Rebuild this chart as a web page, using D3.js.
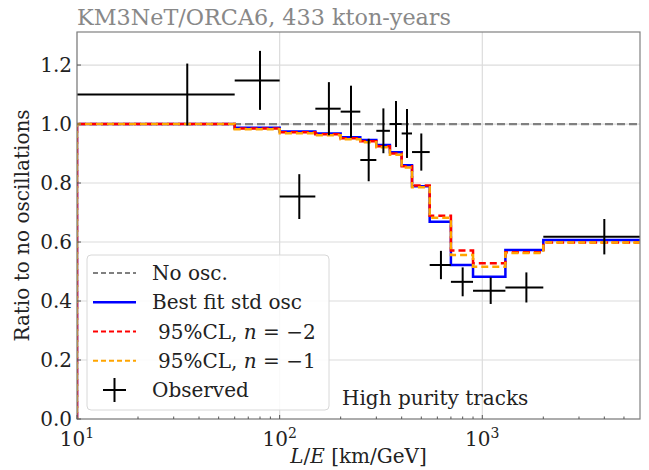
<!DOCTYPE html>
<html>
<head>
<meta charset="utf-8">
<script src="https://cdn.jsdelivr.net/npm/d3@7"></script>
<style>
  body { margin: 0; background: #fff; }
  text { font-family: "DejaVu Serif", serif; }
</style>
</head>
<body>
<div id="chart"></div>
<script>
// Bin edges in L/E (km/GeV) and the observed points at bin centres
const binEdges = [10, 60, 100, 150, 200, 250, 300, 350, 400, 450, 550, 700, 900, 1300, 2000, 6000];
const obsX = [35, 80, 125, 175, 225, 275, 325, 375, 425, 500, 625, 800, 1100, 1650, 4000];
const obsY = [1.10, 1.148, 0.754, 1.052, 1.042, 0.878, 0.977, 1.0, 0.968, 0.905, 0.522, 0.465, 0.435, 0.446, 0.618];
const obsErr = [0.105, 0.10, 0.076, 0.09, 0.088, 0.072, 0.076, 0.078, 0.083, 0.063, 0.048, 0.049, 0.045, 0.051, 0.06];

// Model ratios per bin
const bestFit = [1.0, 0.987, 0.975, 0.968, 0.955, 0.946, 0.929, 0.904, 0.860, 0.789, 0.669, 0.522, 0.482, 0.573, 0.607];
const clNm2 = [1.0, 0.985, 0.972, 0.965, 0.952, 0.942, 0.925, 0.900, 0.857, 0.792, 0.689, 0.571, 0.528, 0.565, 0.598];
const clNm1 = [1.0, 0.982, 0.969, 0.962, 0.948, 0.938, 0.921, 0.896, 0.853, 0.786, 0.682, 0.556, 0.516, 0.563, 0.598];

const yTicks = [0.0, 0.2, 0.4, 0.6, 0.8, 1.0, 1.2];
const xTicks = [10, 100, 1000];
const xMinor = [20, 30, 40, 50, 60, 70, 80, 90, 200, 300, 400, 500, 600, 700, 800, 900, 2000, 3000, 4000, 5000];

const W = 649, H = 470;
const pLeft = 77, pRight = 640, pTop = 32, pBottom = 419;
const fs = 20;

const svg = d3.select("#chart").append("svg")
  .attr("width", W).attr("height", H);

const x = d3.scaleLog().domain([10, 6000]).range([pLeft, pRight]);
const y = d3.scaleLinear().domain([0, 1.312]).range([pBottom, pTop]);

svg.append("defs").append("clipPath").attr("id", "clip")
  .append("rect").attr("x", pLeft).attr("y", pTop)
  .attr("width", pRight - pLeft).attr("height", pBottom - pTop);

// grid
const grid = svg.append("g");
grid.selectAll(".gy").data(yTicks).enter().append("line")
  .attr("x1", pLeft).attr("x2", pRight)
  .attr("y1", d => y(d)).attr("y2", d => y(d))
  .attr("stroke", "#dcdcdc").attr("stroke-width", 1.2);
grid.selectAll(".gx").data(xTicks).enter().append("line")
  .attr("x1", d => x(d)).attr("x2", d => x(d))
  .attr("y1", pTop).attr("y2", pBottom)
  .attr("stroke", "#dcdcdc").attr("stroke-width", 1.2);

const plot = svg.append("g").attr("clip-path", "url(#clip)");

// no oscillation reference line
plot.append("line")
  .attr("x1", x(10)).attr("x2", x(6000))
  .attr("y1", y(1)).attr("y2", y(1))
  .attr("stroke", "#808080").attr("stroke-width", 2.2)
  .attr("stroke-dasharray", "8,4");

// step histogram path
function stepPath(vals) {
  const pts = [[binEdges[0], 0]];
  vals.forEach((v, i) => {
    pts.push([binEdges[i], v]);
    pts.push([binEdges[i + 1], v]);
  });
  return d3.line().x(d => x(d[0])).y(d => y(d[1]))(pts);
}

plot.append("path").attr("d", stepPath(bestFit))
  .attr("fill", "none").attr("stroke", "#0000ff").attr("stroke-width", 2.5);
plot.append("path").attr("d", stepPath(clNm2))
  .attr("fill", "none").attr("stroke", "#ff0000").attr("stroke-width", 2.5)
  .attr("stroke-dasharray", "7,4");
plot.append("path").attr("d", stepPath(clNm1))
  .attr("fill", "none").attr("stroke", "#ffa500").attr("stroke-width", 2.5)
  .attr("stroke-dasharray", "7,4").attr("stroke-dashoffset", 5);

// observed points with error bars
const obs = plot.selectAll(".obs").data(obsX).enter().append("g");
obs.append("line")
  .attr("x1", (d, i) => x(binEdges[i])).attr("x2", (d, i) => x(binEdges[i + 1]))
  .attr("y1", (d, i) => y(obsY[i])).attr("y2", (d, i) => y(obsY[i]))
  .attr("stroke", "#000").attr("stroke-width", 2);
obs.append("line")
  .attr("x1", d => x(d)).attr("x2", d => x(d))
  .attr("y1", (d, i) => y(obsY[i] - obsErr[i])).attr("y2", (d, i) => y(obsY[i] + obsErr[i]))
  .attr("stroke", "#000").attr("stroke-width", 2);

// frame
svg.append("rect").attr("x", pLeft).attr("y", pTop)
  .attr("width", pRight - pLeft).attr("height", pBottom - pTop)
  .attr("fill", "none").attr("stroke", "#808080").attr("stroke-width", 1.2);

// ticks (inward)
const ax = svg.append("g").attr("stroke", "#555").attr("stroke-width", 1);
yTicks.forEach(t => {
  ax.append("line").attr("x1", pLeft).attr("x2", pLeft + 4).attr("y1", y(t)).attr("y2", y(t));
});
xTicks.forEach(t => {
  ax.append("line").attr("x1", x(t)).attr("x2", x(t)).attr("y1", pBottom).attr("y2", pBottom - 4);
});
xMinor.forEach(t => {
  ax.append("line").attr("x1", x(t)).attr("x2", x(t)).attr("y1", pBottom).attr("y2", pBottom - 2.5);
});

// tick labels
svg.selectAll(".yl").data(yTicks).enter().append("text")
  .attr("x", pLeft - 5).attr("y", d => y(d) + 7)
  .attr("text-anchor", "end").attr("font-size", fs).attr("fill", "#222")
  .text(d => d.toFixed(1));

xTicks.forEach(t => {
  const tx = svg.append("text").attr("x", x(t)).attr("y", pBottom + 27)
    .attr("text-anchor", "middle").attr("font-size", fs).attr("fill", "#222");
  tx.append("tspan").text("10");
  tx.append("tspan").attr("dy", -8).attr("font-size", 14).text(Math.round(Math.log10(t)));
});

// axis labels
const xl = svg.append("text").attr("x", (pLeft + pRight) / 2).attr("y", 463)
  .attr("text-anchor", "middle").attr("font-size", fs).attr("fill", "#222");
xl.append("tspan").attr("font-style", "italic").text("L");
xl.append("tspan").text("/");
xl.append("tspan").attr("font-style", "italic").text("E");
xl.append("tspan").text(" [km/GeV]");

svg.append("text")
  .attr("transform", `translate(29,${(pTop + pBottom) / 2}) rotate(-90)`)
  .attr("text-anchor", "middle").attr("font-size", fs).attr("fill", "#222")
  .text("Ratio to no oscillations");

// title
svg.append("text").attr("x", pLeft).attr("y", 25)
  .attr("font-size", 22.3).attr("fill", "#888")
  .text("KM3NeT/ORCA6, 433 kton-years");

// annotation
svg.append("text").attr("x", 342).attr("y", 405)
  .attr("font-size", fs).attr("fill", "#222")
  .text("High purity tracks");

// legend
const lg = svg.append("g");
lg.append("rect").attr("x", 87).attr("y", 255).attr("width", 242).attr("height", 155)
  .attr("rx", 4).attr("fill", "#fff").attr("fill-opacity", 0.85)
  .attr("stroke", "#d8d8d8").attr("stroke-width", 1);

const legendItems = ["noosc", "best", "m2", "m1", "obs"];
const rowY = d3.scalePoint().domain(legendItems).range([273, 390]);

function legendLine(key, color, dash, width) {
  const l = lg.append("line").attr("x1", 93).attr("x2", 136)
    .attr("y1", rowY(key)).attr("y2", rowY(key))
    .attr("stroke", color).attr("stroke-width", width);
  if (dash) l.attr("stroke-dasharray", dash);
}
legendLine("noosc", "#808080", "5,3", 2);
legendLine("best", "#0000ff", null, 2.5);
legendLine("m2", "#ff0000", "5,3", 2);
legendLine("m1", "#ffa500", "5,3", 2);
lg.append("line").attr("x1", 103).attr("x2", 126)
  .attr("y1", rowY("obs")).attr("y2", rowY("obs")).attr("stroke", "#000").attr("stroke-width", 2);
lg.append("line").attr("x1", 114.5).attr("x2", 114.5)
  .attr("y1", rowY("obs") - 12).attr("y2", rowY("obs") + 12).attr("stroke", "#000").attr("stroke-width", 2);

function legendText(key) {
  return lg.append("text").attr("x", 152).attr("y", rowY(key) + 7)
    .attr("font-size", fs).attr("fill", "#222");
}
legendText("noosc").text("No osc.");
legendText("best").text("Best fit std osc");
[["m2", "2"], ["m1", "1"]].forEach(([k, n]) => {
  const t = legendText(k).attr("x", 158);
  t.append("tspan").text("95%CL, ");
  t.append("tspan").attr("font-style", "italic").text("n");
  t.append("tspan").text(" = \u2212" + n);
});
legendText("obs").text("Observed");
</script>
</body>
</html>
